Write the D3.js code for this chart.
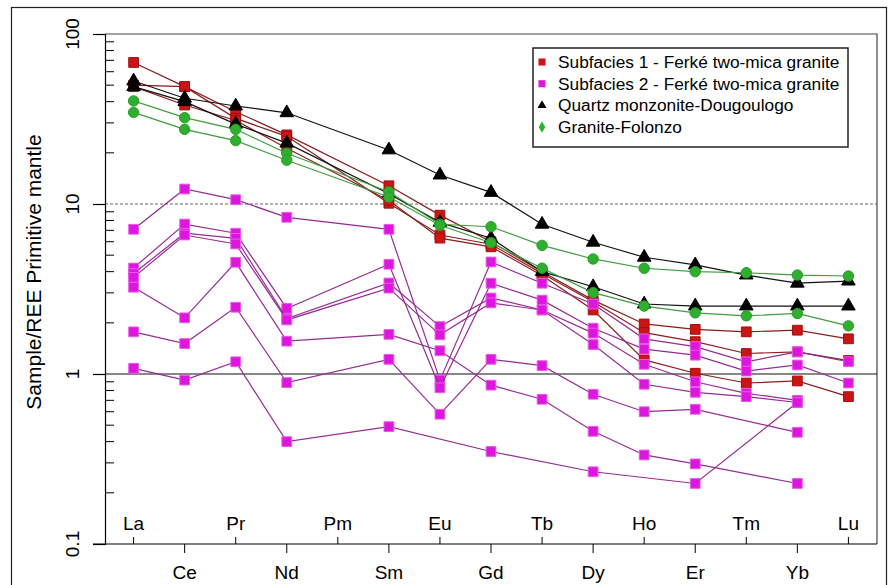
<!DOCTYPE html>
<html>
<head>
<meta charset="utf-8">
<script src="https://cdn.jsdelivr.net/npm/d3@7"></script>
<style>
  body { margin: 0; background: #fff; }
  text { font-family: "Liberation Sans", Arial, sans-serif; }
</style>
</head>
<body>
<div id="container"></div>
<script>
/* CONSTANTS AND GLOBALS */
const width = 891;
const height = 585;
// plot box in page pixels
const margin = { top: 34, right: 14, bottom: 41, left: 105 };

/* DATA */
const elements = ["La", "Ce", "Pr", "Nd", "Pm", "Sm", "Eu", "Gd", "Tb", "Dy", "Ho", "Er", "Tm", "Yb", "Lu"];
const yTicks = [0.1, 1, 10, 100];

// Subfacies 1 - Ferké two-mica granite
const sub1_a = [68, 49, 34.9, 25.5, null, 12.8, 8.6, 6.0, 4.0, 2.72, 1.97, 1.83, 1.77, 1.81, 1.61];
const sub1_b = [50, 49, 31.9, 25, null, 10.1, 6.57, 5.8, 3.9, 2.66, 1.75, 1.55, 1.32, 1.35, 1.2];
const sub1_c = [49, 38.2, 31, 21.3, null, 10.5, 6.3, 5.6, 3.8, 2.38, 1.21, 1.01, 0.885, 0.91, 0.736];

// Subfacies 2 - Ferké two-mica granite
const sub2_a = [7.1, 12.25, 10.6, 8.35, null, 7.1, 0.92, 4.56, 3.42, 2.58, 1.61, 1.45, 1.18, 1.35, 1.18];
const sub2_b = [4.2, 7.62, 6.73, 2.43, null, 4.42, 0.83, 3.42, 2.72, 1.86, 1.40, 1.29, 1.04, 1.13, 0.885];
const sub2_c = [3.9, 6.73, 6.28, 2.12, null, 3.43, 1.9, 2.8, 2.38, 1.74, 1.14, 0.90, 0.77, 0.70, null];
const sub2_d = [3.7, 6.57, 5.82, 2.08, null, 3.2, 1.7, 2.62, 2.38, 1.49, 0.87, 0.78, 0.736, 0.68, null];
const sub2_e = [3.24, 2.14, 4.54, 1.56, null, 1.71, 1.37, 0.86, 0.71, 0.46, 0.334, 0.296, null, 0.227, null];
const sub2_f = [1.77, 1.51, 2.47, 0.89, null, 1.22, 0.58, 1.22, 1.12, 0.76, 0.60, 0.62, null, 0.454, null];
const sub2_g = [1.08, 0.92, 1.18, 0.40, null, 0.49, null, 0.35, null, 0.266, null, 0.227, null, 0.68, null];

// Quartz monzonite-Dougoulogo
const qmz_a = [52.9, 41.9, 37.7, 34.4, null, 20.8, 14.8, 11.7, 7.6, 5.96, 4.86, 4.38, 3.82, 3.42, 3.52];
const qmz_b = [49, 40, 29.5, 22.8, null, 11.5, 7.8, 6.29, 4.0, 3.26, 2.58, 2.51, 2.51, 2.51, 2.51];

// Granite-Folonzo
const gra_a = [40.4, 32.2, 27.5, 19.9, null, 11.8, 7.6, 7.35, 5.71, 4.75, 4.19, 4.0, 3.94, 3.82, 3.77];
const gra_b = [34.6, 27.5, 23.6, 18.1, null, 11.0, 7.5, 5.92, 4.19, 3.01, 2.51, 2.29, 2.2, 2.27, 1.92];

// groups, in drawing order (later ones sit on top)
const groups = [
  { name: "Subfacies 1 - Ferké two-mica granite", samples: [sub1_a, sub1_b, sub1_c],
    shape: d3.symbolSquare, size: 95, legendShape: d3.symbolSquare, legendSize: 50,
    fill: "#cc1414", stroke: "#a01010", line: "#8a1e1e" },
  { name: "Subfacies 2 - Ferké two-mica granite", samples: [sub2_a, sub2_b, sub2_c, sub2_d, sub2_e, sub2_f, sub2_g],
    shape: d3.symbolSquare, size: 95, legendShape: d3.symbolSquare, legendSize: 50,
    fill: "#dd16dd", stroke: "#e85ae8", line: "#952c95" },
  { name: "Quartz monzonite-Dougoulogo", samples: [qmz_a, qmz_b],
    shape: d3.symbolTriangle, size: 80, legendShape: d3.symbolTriangle, legendSize: 36,
    fill: "#000", stroke: "#000", line: "#111" },
  { name: "Granite-Folonzo", samples: [gra_a, gra_b],
    shape: d3.symbolCircle, size: 85, legendShape: d3.symbolDiamond, legendSize: 36,
    fill: "#2eb02e", stroke: "#2a9a2a", line: "#3f9d3f" }
];

/* SCALES */
const xScale = d3.scalePoint()
  .domain(elements)
  .range([margin.left, width - margin.right])
  .padding(0.56);

const yScale = d3.scaleLog()
  .domain([0.1, 100])
  .range([height - margin.bottom, margin.top]);

/* SVG */
const svg = d3.select("#container")
  .append("svg")
  .attr("width", width)
  .attr("height", height);

// outer figure border
svg.append("rect")
  .attr("x", 11.5).attr("y", 7.5)
  .attr("width", 875).attr("height", 620)
  .attr("fill", "none")
  .attr("stroke", "#222")
  .attr("stroke-width", 1.2);

const x0 = margin.left, x1 = width - margin.right;
const yTop = yScale(100), yBot = yScale(0.1);

// frame (top + right)
svg.append("path")
  .attr("d", `M${x0},${yTop}H${x1}V${yBot}`)
  .attr("fill", "none")
  .attr("stroke", "#444")
  .attr("stroke-width", 1.2);

// reference lines at 10 (dashed) and 1 (solid)
svg.append("line")
  .attr("x1", x0).attr("x2", x1)
  .attr("y1", yScale(10)).attr("y2", yScale(10))
  .attr("stroke", "#666").attr("stroke-width", 1)
  .attr("stroke-dasharray", "3,2");

svg.append("line")
  .attr("x1", x0).attr("x2", x1)
  .attr("y1", yScale(1)).attr("y2", yScale(1))
  .attr("stroke", "#111").attr("stroke-width", 1.2);

// y axis: major ticks outward, minor ticks inward
const yAxis = svg.append("g")
  .attr("transform", `translate(${x0},0)`)
  .call(d3.axisLeft(yScale).tickValues(yTicks).tickSize(12).tickFormat(""));

const minorTicks = yScale.ticks().filter(v => !yTicks.includes(v));
yAxis.selectAll("line.minor")
  .data(minorTicks)
  .join("line")
  .attr("class", "minor")
  .attr("x1", 0).attr("x2", 9)
  .attr("y1", d => yScale(d)).attr("y2", d => yScale(d))
  .attr("stroke", "#000");

yAxis.select(".domain").attr("stroke", "#000").attr("stroke-width", 1.2);
yAxis.selectAll(".tick line").attr("stroke", "#000").attr("stroke-width", 1.2);

// y tick labels, rotated
svg.selectAll("text.ylab")
  .data(yTicks)
  .join("text")
  .attr("class", "ylab")
  .attr("transform", d => `translate(72,${yScale(d)}) rotate(-90)`)
  .attr("text-anchor", "middle")
  .attr("dy", "0.35em")
  .attr("font-size", 19)
  .text(d => d);

// y axis title
svg.append("text")
  .attr("transform", `translate(34,272) rotate(-90)`)
  .attr("text-anchor", "middle")
  .attr("dy", "0.35em")
  .attr("font-size", 21)
  .text("Sample/REE Primitive mantle");

// x axis: baseline line + alternating ticks/labels
svg.append("line")
  .attr("x1", 93).attr("x2", x1)
  .attr("y1", yBot).attr("y2", yBot)
  .attr("stroke", "#000").attr("stroke-width", 1.2);

const xTicks = svg.append("g");
xTicks.selectAll("line")
  .data(elements)
  .join("line")
  .attr("x1", d => xScale(d)).attr("x2", d => xScale(d))
  .attr("y1", yBot)
  .attr("y2", (d, i) => i % 2 === 0 ? yBot - 7 : yBot + 9)
  .attr("stroke", "#000");

xTicks.selectAll("text")
  .data(elements)
  .join("text")
  .attr("x", d => xScale(d))
  .attr("y", (d, i) => i % 2 === 0 ? yBot - 14 : yBot + 35)
  .attr("text-anchor", "middle")
  .attr("font-size", 19)
  .text(d => d);

/* SERIES */
const line = d3.line()
  .x(d => xScale(d.el))
  .y(d => yScale(d.v));

groups.forEach(g => {
  const layer = svg.append("g");
  g.samples.forEach(s => {
    const pts = s.map((v, i) => ({ el: elements[i], v: v })).filter(d => d.v != null);
    layer.append("path")
      .datum(pts)
      .attr("d", line)
      .attr("fill", "none")
      .attr("stroke", g.line)
      .attr("stroke-width", 1.2);
    layer.selectAll(null)
      .data(pts)
      .join("path")
      .attr("transform", d => `translate(${xScale(d.el)},${yScale(d.v)})`)
      .attr("d", d3.symbol().type(g.shape).size(g.size))
      .attr("fill", g.fill)
      .attr("stroke", g.stroke)
      .attr("stroke-width", 1);
  });
});

/* LEGEND */
const legend = svg.append("g").attr("transform", "translate(533,48)");
legend.append("rect")
  .attr("width", 315).attr("height", 99)
  .attr("fill", "#fff")
  .attr("stroke", "#222")
  .attr("stroke-width", 1.5);

const items = legend.selectAll("g.item")
  .data(groups)
  .join("g")
  .attr("class", "item")
  .attr("transform", (d, i) => `translate(0,${14 + i * 21.7})`);

items.append("path")
  .attr("transform", "translate(9,0)")
  .attr("d", d => d3.symbol().type(d.legendShape).size(d.legendSize)())
  .attr("fill", d => d.fill);

items.append("text")
  .attr("x", 25)
  .attr("dy", "0.35em")
  .attr("font-size", 17.3)
  .text(d => d.name);
</script>
</body>
</html>
